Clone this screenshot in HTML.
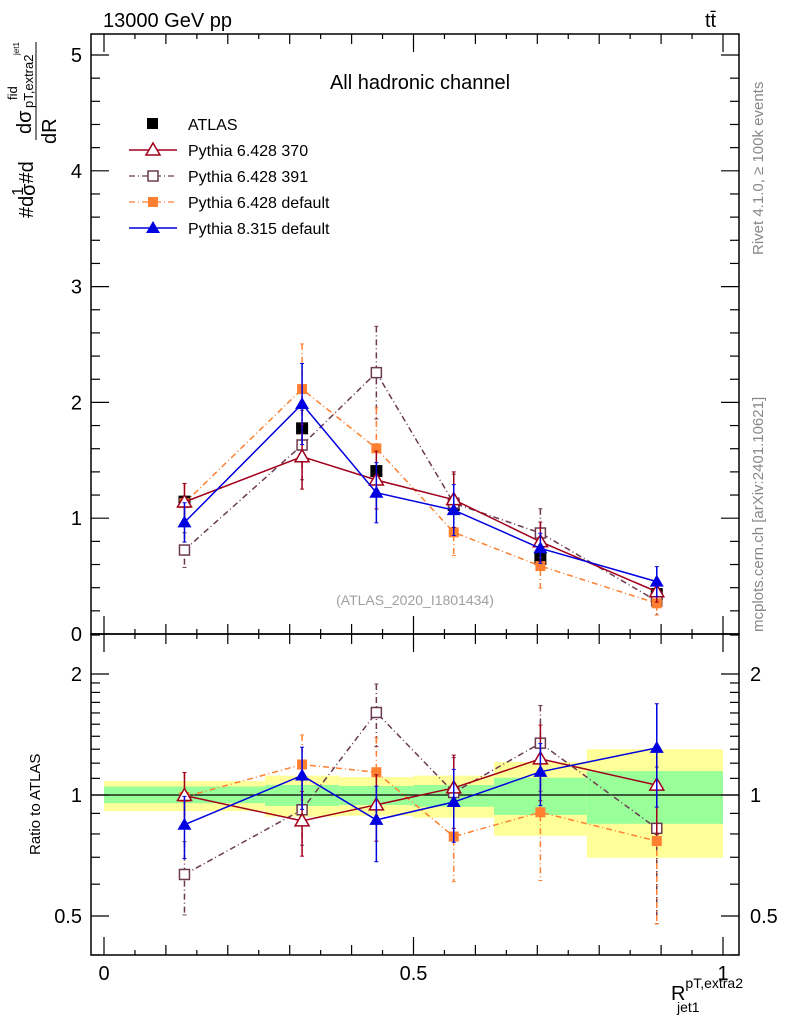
<!DOCTYPE html>
<html><head><meta charset="utf-8"><style>
body{margin:0;background:#fff;}
svg text{font-family:"Liberation Sans",sans-serif;}
</style></head><body>
<svg id="chart" width="786" height="1024" xmlns="http://www.w3.org/2000/svg">
<g id="bands"></g>
<g id="marks"></g>
<g id="axes"></g>
<text x="103" y="27" font-size="20">13000 GeV pp</text>
<text x="705" y="27" font-size="20">tt̄</text>
<text x="420" y="89" font-size="20" text-anchor="middle">All hadronic channel</text>
<text x="415" y="605" font-size="14" fill="#a0a0a0" text-anchor="middle">(ATLAS_2020_I1801434)</text>
<text transform="translate(763,255) rotate(-90)" font-size="15" fill="#888">Rivet 4.1.0, ≥ 100k events</text>
<text transform="translate(763,632) rotate(-90)" font-size="15" fill="#888">mcplots.cern.ch [arXiv:2401.10621]</text>
<g>
<text transform="translate(33,218) rotate(-90)" font-size="20">#d<tspan font-size="16" dy="-10">1</tspan><tspan font-size="20" dx="-9" dy="12">σ</tspan><tspan dy="-2">#d</tspan></text>
<text transform="translate(31,134) rotate(-90)" font-size="20">dσ</text>
<text transform="translate(17,100) rotate(-90)" font-size="13">fid</text>
<text transform="translate(33,108) rotate(-90)" font-size="13">pT,extra2</text>
<text transform="translate(19,55) rotate(-90)" font-size="8">jet1</text>
<line x1="36" y1="42" x2="36" y2="140" stroke="#000" stroke-width="1"/>
<text transform="translate(56,144) rotate(-90)" font-size="20">dR</text>
</g>
<text transform="translate(40,855) rotate(-90)" font-size="15">Ratio to ATLAS</text>
<text x="743" y="1000" font-size="20" text-anchor="end">R<tspan font-size="14" dy="-12">pT,extra2</tspan><tspan font-size="14" dx="-66" dy="24">jet1</tspan></text>
<g font-size="16">
<g><rect x="147" y="118" width="11" height="11" fill="#000"/><text x="188" y="130">ATLAS</text></g>
<g><line x1="129" y1="150" x2="177" y2="150" stroke="#a0001c" stroke-width="1.5"/><polygon points="153,143 160,155 146,155" fill="#fff" stroke="#a0001c" stroke-width="1.5"/><text x="188" y="156">Pythia 6.428 370</text></g>
<g><line x1="129" y1="176" x2="177" y2="176" stroke="#6b3a50" stroke-width="1.2" stroke-dasharray="6,3,1,3"/><rect x="148" y="171" width="10" height="10" fill="#fff" stroke="#6b3a50" stroke-width="1.5"/><text x="188" y="182">Pythia 6.428 391</text></g>
<g><line x1="129" y1="202" x2="177" y2="202" stroke="#ff8030" stroke-width="1.2" stroke-dasharray="6,3,1,3"/><rect x="148" y="197" width="10" height="10" fill="#ff8030"/><text x="188" y="208">Pythia 6.428 default</text></g>
<g><line x1="129" y1="228" x2="177" y2="228" stroke="#0000e0" stroke-width="1.5"/><polygon points="153,221 160,233 146,233" fill="#0000e0"/><text x="188" y="234">Pythia 8.315 default</text></g>
</g>
</svg>
<script>
const xs = [0.13, 0.32, 0.44, 0.565, 0.705, 0.893];
const binEdges = [0, 0.26, 0.38, 0.5, 0.63, 0.78, 1.0];
const atlas = [1.143, 1.776, 1.407, 1.114, 0.648, 0.345];
const yellowHi = [1.083, 1.117, 1.108, 1.117, 1.208, 1.30];
const yellowLo = [0.912, 0.883, 0.888, 0.878, 0.792, 0.698];
const greenHi = [1.05, 1.059, 1.053, 1.059, 1.104, 1.147];
const greenLo = [0.954, 0.939, 0.944, 0.935, 0.892, 0.848];
const p370 = [1.14, 1.531, 1.33, 1.16, 0.797, 0.365];
const p370Err = [0.16, 0.28, 0.25, 0.24, 0.17, 0.09];
const p391 = [0.725, 1.632, 2.257, 1.13, 0.872, 0.285];
const p391Err = [0.15, 0.30, 0.40, 0.25, 0.21, 0.12];
const p6def = [1.13, 2.115, 1.603, 0.878, 0.587, 0.265];
const p6defErr = [0.17, 0.39, 0.35, 0.20, 0.19, 0.10];
const p8 = [0.964, 1.986, 1.22, 1.07, 0.74, 0.452];
const p8Err = [0.17, 0.35, 0.26, 0.22, 0.13, 0.13];
const mainTicks = [0, 1, 2, 3, 4, 5];
const ratioTicks = [0.5, 1, 2];
const xTicks = [0, 0.5, 1];

const NS = "http://www.w3.org/2000/svg";
const L = 91, R = 739, T = 34, MB = 634, RB = 955;
const X = v => 104 + v * 619;
const Y = v => 634 - v * 115.8;
const YR = r => 795 - 121 * Math.log2(r);
function mk(tag, attrs, parent) {
  const e = document.createElementNS(NS, tag);
  for (const k in attrs) e.setAttribute(k, attrs[k]);
  parent.appendChild(e);
  return e;
}
const bands = document.getElementById('bands');
const marks = document.getElementById('marks');
const axes = document.getElementById('axes');

for (let i = 0; i < binEdges.length - 1; i++) {
  const x0 = X(binEdges[i]), x1 = X(binEdges[i + 1]);
  const y = mk('rect', {x: x0, y: YR(yellowHi[i]), width: x1 - x0, height: YR(yellowLo[i]) - YR(yellowHi[i]), fill: '#ffff99'}, bands);
  
  
  const g = mk('rect', {x: x0, y: YR(greenHi[i]), width: x1 - x0, height: YR(greenLo[i]) - YR(greenHi[i]), fill: '#99ff99'}, bands);
  
  
}
const one = mk('line', {x1: L, x2: R, y1: YR(1), y2: YR(1), stroke: '#000', 'stroke-width': 1.2}, bands);



function marker(type, color, cx, cy, parent) {
  let e;
  if (type === 'tri') e = mk('polygon', {points: `${cx},${cy-7} ${cx+7},${cy+5} ${cx-7},${cy+5}`, fill: '#fff', stroke: color, 'stroke-width': 1.5}, parent);
  else if (type === 'trif') e = mk('polygon', {points: `${cx},${cy-7} ${cx+7},${cy+5} ${cx-7},${cy+5}`, fill: color}, parent);
  else if (type === 'sq') e = mk('rect', {x: cx-5, y: cy-5, width: 10, height: 10, fill: '#fff', stroke: color, 'stroke-width': 1.5}, parent);
  else if (type === 'sqf') e = mk('rect', {x: cx-5, y: cy-5, width: 10, height: 10, fill: color}, parent);
  else e = mk('rect', {x: cx-6, y: cy-6, width: 12, height: 12, fill: color}, parent);
  return e;
}
const series = [
  {name: 'pythia6-391', vals: p391, err: p391Err, color: '#6b3a50', dash: '6,3,1,3', m: 'sq'},
  {name: 'pythia6-default', vals: p6def, err: p6defErr, color: '#ff8030', dash: '6,3,1,3', m: 'sqf'},
  {name: 'pythia6-370', vals: p370, err: p370Err, color: '#a0001c', dash: '', m: 'tri'},
  {name: 'pythia8-default', vals: p8, err: p8Err, color: '#0000e0', dash: '', m: 'trif'}
];
function drawSeries(s, ratio) {
  const g = mk('g', {}, marks);
  
  
  const yf = ratio ? (i, v) => YR(v / atlas[i]) : (i, v) => Y(v);
  const pts = s.vals.map((v, i) => `${X(xs[i])},${yf(i, v)}`).join(' ');
  const pl = mk('polyline', {points: pts, fill: 'none', stroke: s.color, 'stroke-width': 1.5}, g);
  if (s.dash) pl.setAttribute('stroke-dasharray', s.dash);
  s.vals.forEach((v, i) => {
    const cx = X(xs[i]);
    const y1 = yf(i, v + s.err[i]), y2 = yf(i, Math.max(v - s.err[i], 0.01));
    const eb = mk('line', {x1: cx, x2: cx, y1: y1, y2: y2, stroke: s.color, 'stroke-width': 1.5}, g);
    if (s.dash) eb.setAttribute('stroke-dasharray', s.dash);
    
    
    mk('line', {x1: cx-2, x2: cx+2, y1: y1, y2: y1, stroke: s.color}, g);
    mk('line', {x1: cx-2, x2: cx+2, y1: y2, y2: y2, stroke: s.color}, g);
    const mm = marker(s.m, s.color, cx, yf(i, v), g);
    
    
  });
}
const ag = mk('g', {}, marks);


atlas.forEach((v, i) => {
  const p = marker('atlas', '#000', X(xs[i]), Y(v), ag);
  
  
});
series.forEach(s => { drawSeries(s, false); drawSeries(s, true); });

const f1 = mk('rect', {x: L, y: T, width: R - L, height: MB - T, fill: 'none', stroke: '#000', 'stroke-width': 1.5}, axes);


const f2 = mk('rect', {x: L, y: MB, width: R - L, height: RB - MB, fill: 'none', stroke: '#000', 'stroke-width': 1.5}, axes);


function tick(x1, y1, x2, y2) { mk('line', {x1, y1, x2, y2, stroke: '#000', 'stroke-width': 1.2}, axes); }
for (let k = 0; k <= 21; k++) {
  const v = k * 0.05, x = X(v);
  if (x > R) continue;
  const len = (k % 10 === 0) ? 18 : (k % 2 === 0 ? 10 : 5);
  [[T, 1], [MB, -1], [MB, 1], [RB, -1]].forEach(([y0, d]) => tick(x, y0, x, y0 + d * len));
}
xTicks.forEach(v => {
  const t = mk('text', {x: X(v), y: 980, 'font-size': 20, 'text-anchor': 'middle'}, axes);
  t.textContent = String(v);
  
  
});
for (let k = 0; k <= 25; k++) {
  const v = k * 0.2, y = Y(v);
  if (y < T) continue;
  const len = (k % 5 === 0) ? 18 : 9;
  tick(L, y, L + len, y); tick(R, y, R - len, y);
}
mainTicks.forEach(v => {
  const t = mk('text', {x: 82, y: Y(v) + 7, 'font-size': 20, 'text-anchor': 'end'}, axes);
  t.textContent = String(v);
  
  
});
[0.4,0.5,0.6,0.7,0.8,0.9,1,1.1,1.2,1.3,1.4,1.5,1.6,1.7,1.8,1.9,2,2.5].forEach(r => {
  const y = YR(r);
  if (y < MB || y > RB) return;
  const len = ratioTicks.includes(r) ? 18 : 9;
  tick(L, y, L + len, y); tick(R, y, R - len, y);
});
ratioTicks.forEach(r => {
  const t = mk('text', {x: 82, y: YR(r) + 7, 'font-size': 20, 'text-anchor': 'end'}, axes);
  t.textContent = String(r);
  
  
  const t2 = mk('text', {x: 750, y: YR(r) + 7, 'font-size': 20}, axes);
  t2.textContent = String(r);
  
  
});
</script>
</body></html>
